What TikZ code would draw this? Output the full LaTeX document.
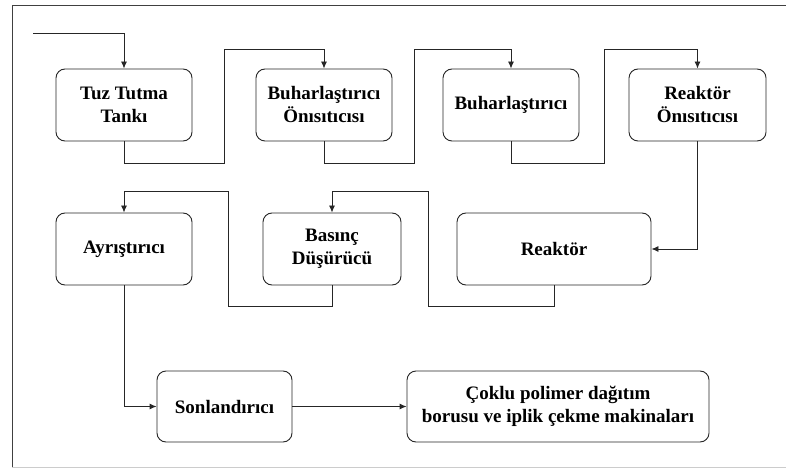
\documentclass[tikz,border=0pt]{standalone}
\usepackage{fontspec}
\setmainfont{Liberation Serif}
\usetikzlibrary{arrows.meta}
\begin{document}
\begin{tikzpicture}[x=1pt,y=-1pt,
  box/.style={draw=black!85, line width=0.9pt, rounded corners=9pt, align=center,
    inner sep=0pt, font=\fontsize{19}{23}\selectfont\bfseries},
  flow/.style={draw=black!85, line width=0.9pt, -{Latex[length=7pt,width=6pt]}}]
\useasboundingbox (0,0) rectangle (786,470);
\fill[white] (0,0) rectangle (786,470);
% frame
\draw[black!75, line width=1pt] (786,6) -- (12,6) -- (12,467);
\draw[black!20, line width=1pt] (12,467) -- (786,467);
% nodes
\node[box, minimum width=136pt, minimum height=72pt] (n1) at (124,105) {Tuz Tutma\\Tankı};
\node[box, minimum width=136pt, minimum height=72pt] (n2) at (324,105) {Buharlaştırıcı\\Önısıtıcısı};
\node[box, minimum width=136pt, minimum height=72pt] (n3) at (511,105) {Buharlaştırıcı};
\node[box, minimum width=137pt, minimum height=72pt] (n4) at (697.5,105) {Reaktör\\Önısıtıcısı};
\node[box, minimum width=194pt, minimum height=72pt] (n5) at (554,249) {Reaktör};
\node[box, minimum width=138pt, minimum height=72pt] (n6) at (332,249) {Basınç\\Düşürücü};
\node[box, minimum width=136pt, minimum height=72pt] (n7) at (124,249) {Ayrıştırıcı};
\node[box, minimum width=135pt, minimum height=71pt] (n8) at (224.5,406.5) {Sonlandırıcı};
\node[box, minimum width=302pt, minimum height=71pt] (n9) at (558,406.5) {Çoklu polimer dağıtım\\borusu ve iplik çekme makinaları};
\coordinate (in) at (33,33);
% connectors
\draw[flow] (in) -| (n1.north);
\draw[flow] (n1.south) |- (224,163) -- (224,49) -| (n2.north);
\draw[flow] (n2.south) |- (414,163) -- (414,49) -| (n3.north);
\draw[flow] (n3.south) |- (604,163) -- (604,49) -| (n4.north);
\draw[flow] (n4.south) |- (n5.east);
\draw[flow] (n5.south) |- (428,306) -- (428,191) -| (n6.north);
\draw[flow] (n6.south) |- (228,306) -- (228,191) -| (n7.north);
\draw[flow] (n7.south) |- (n8.west);
\draw[flow] (n8.east) -- (n9.west);
\end{tikzpicture}
\end{document}
